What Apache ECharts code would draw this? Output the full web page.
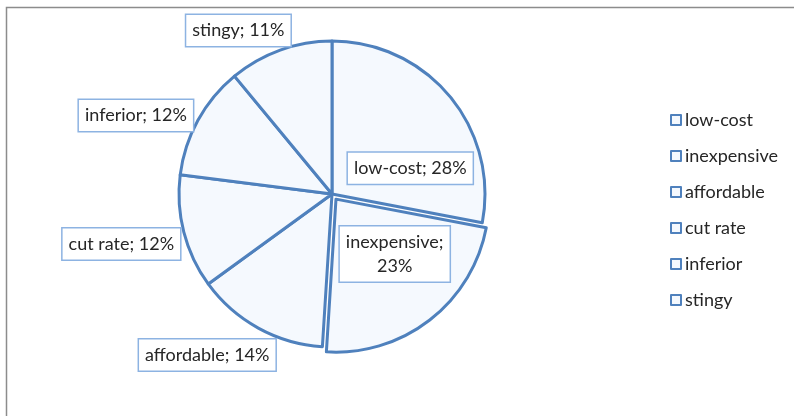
<!DOCTYPE html>
<html>
<head>
<meta charset="utf-8">
<script src="https://cdn.jsdelivr.net/npm/echarts@6/dist/echarts.min.js"></script>
<style>
html,body{margin:0;padding:0;background:#fff;}
#chart{width:794px;height:416px;}
</style>
</head>
<body>
<div id="chart"></div>
<script>
const categories = ['low-cost', 'inexpensive', 'affordable', 'cut rate', 'inferior', 'stingy'];
const values = [28, 23, 14, 12, 12, 11];

// label placement tweaks (pixels), layout only
const labelOffsets = [[17, 25], [10, -8], [26, 20], [9, 10], [7, -1], [18, -12]];

const insideSet = new Set(['low-cost', 'inexpensive']);

const chart = echarts.init(document.getElementById('chart'));
const fontFamily = 'Lato, "Open Sans", sans-serif';
const labelStyle = {
  color: '#262626',
  fontSize: 18,
  fontFamily: fontFamily,
  backgroundColor: '#fff',
  borderColor: '#8db3e2',
  borderWidth: 1.5,
  padding: [4, 6, 3, 6],
  lineHeight: 24
};

chart.setOption({
  animation: false,
  graphic: [{
    type: 'rect',
    shape: { x: 6.5, y: 7.5, width: 900, height: 500 },
    style: { fill: 'none', stroke: '#8c8c8c', lineWidth: 1.5 },
    silent: true
  }],
  legend: {
    orient: 'vertical',
    left: 670,
    top: 111,
    padding: 0,
    itemWidth: 10,
    itemHeight: 10,
    itemGap: 18,
    icon: 'rect',
    textStyle: { color: '#262626', fontSize: 18, fontFamily: fontFamily, padding: [0, 0, 0, -1] },
    itemStyle: { color: '#f5f9fe', borderColor: '#4f81bd', borderWidth: 2 },
    data: categories
  },
  series: [{
    type: 'pie',
    center: [332, 194],
    radius: [0, 153],
    startAngle: 90,
    clockwise: true,
    selectedMode: 'single',
    selectedOffset: 6.5,
    itemStyle: { color: '#f5f9fe', borderColor: '#4f81bd', borderWidth: 3 },
    emphasis: { disabled: true },
    label: Object.assign({ show: true, formatter: '{b}; {c}%' }, labelStyle),
    labelLine: { show: false, length: 8, length2: 0 },
    labelLayout: function (params) {
      const o = labelOffsets[params.dataIndex];
      return { dx: o[0], dy: o[1] };
    },
    data: categories.map((c, i) => ({
      name: c,
      value: values[i],
      selected: c === 'inexpensive',
      label: insideSet.has(c)
        ? { position: 'inside', formatter: c === 'inexpensive' ? '{b};\n{c}%' : '{b}; {c}%' }
        : { position: 'outside' }
    }))
  }]
});
</script>
</body>
</html>
